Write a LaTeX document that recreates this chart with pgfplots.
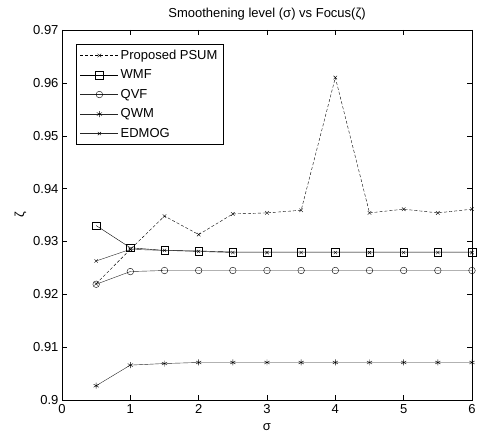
\documentclass[border=0pt]{standalone}
\usepackage{fontspec}
\setmainfont{Liberation Sans}
\usepackage{pgfplots}
\pgfplotsset{compat=1.18}
\usetikzlibrary{calc}

\begin{document}
\fontsize{13}{15}\selectfont
\begin{tikzpicture}
  \begin{axis}[
    name=ax,
    scale only axis,
    width=410pt,
    height=370pt,
    xmin=0, xmax=6,
    ymin=0.9, ymax=0.97,
    xtick={0,1,...,6},
    ytick={0.9,0.91,0.92,0.93,0.94,0.95,0.96,0.97},
    tick align=inside,
    major tick length=5pt,
    tick style={black, thin},
    axis line style={black, thin},
    /pgf/number format/assume math mode=true,
    /pgf/number format/fixed,
    /pgf/number format/precision=2,
    yticklabel style={font=\fontsize{13}{15}\selectfont, xshift=1pt},
    xticklabel style={font=\fontsize{13}{15}\selectfont},
    xlabel={σ},
    ylabel={ζ},
    xlabel style={font=\fontsize{13}{15}\selectfont, yshift=-1pt},
    ylabel style={font=\fontsize{13}{15}\selectfont, yshift=-2pt},
    title={Smoothening level (σ) vs Focus(ζ)},
    title style={font=\fontsize{13}{15}\selectfont, yshift=-1pt},
    legend style={
      at={(0.034,0.962)}, anchor=north west,
      draw=black, thin,
      font=\fontsize{13}{15}\selectfont,
      row sep=4.5pt,
      inner xsep=4pt, inner ysep=3.5pt,
      cells={anchor=west}
    },
    legend image code/.code={
      \draw[mark repeat=2, mark phase=2, #1]
        plot coordinates {(0cm,0cm) (0.67cm,0cm) (1.34cm,0cm)};
    },
  ]
    \addplot[black, thin, densely dashed, mark=x, mark size=2.5pt, mark options={solid}]
      coordinates {(0.5,0.9220) (1,0.9285) (1.5,0.9348) (2,0.9313) (2.5,0.9352)
        (3,0.9354) (3.5,0.9359) (4,0.9610) (4.5,0.9354) (5,0.9361) (5.5,0.9354) (6,0.9361)};
    \addlegendentry{Proposed PSUM}
    \addplot[black, thin, mark=square, mark size=3.8pt]
      coordinates {(0.5,0.9330) (1,0.9288) (1.5,0.9283) (2,0.9282) (2.5,0.9280)
        (3,0.9280) (3.5,0.9280) (4,0.9280) (4.5,0.9280) (5,0.9280) (5.5,0.9280) (6,0.9280)};
    \addlegendentry{WMF}
    \addplot[black!85, thin, mark=o, mark size=3.3pt, mark options={black}]
      coordinates {(0.5,0.9219) (1,0.9243) (1.5,0.9245) (2,0.9245) (2.5,0.9245)
        (3,0.9245) (3.5,0.9245) (4,0.9245) (4.5,0.9245) (5,0.9245) (5.5,0.9245) (6,0.9245)};
    \addlegendentry{QVF}
    \addplot[black!85, thin, mark=asterisk, mark size=3pt, mark options={black}]
      coordinates {(0.5,0.9027) (1,0.9066) (1.5,0.9069) (2,0.9071) (2.5,0.9071)
        (3,0.9071) (3.5,0.9071) (4,0.9071) (4.5,0.9071) (5,0.9071) (5.5,0.9071) (6,0.9071)};
    \addlegendentry{QWM}
    \addplot[black!85, thin, mark=x, mark size=2.3pt, mark options={black}]
      coordinates {(0.5,0.9263) (1,0.9285) (1.5,0.9283) (2,0.9281) (2.5,0.9279)
        (3,0.9279) (3.5,0.9279) (4,0.9279) (4.5,0.9279) (5,0.9279) (5.5,0.9279) (6,0.9279)};
    \addlegendentry{EDMOG}
  \end{axis}
  \pgfresetboundingbox
  \path[use as bounding box] ($(ax.south west)+(-62pt,-41pt)$) rectangle ($(ax.north east)+(11pt,30pt)$);
\end{tikzpicture}
\end{document}
